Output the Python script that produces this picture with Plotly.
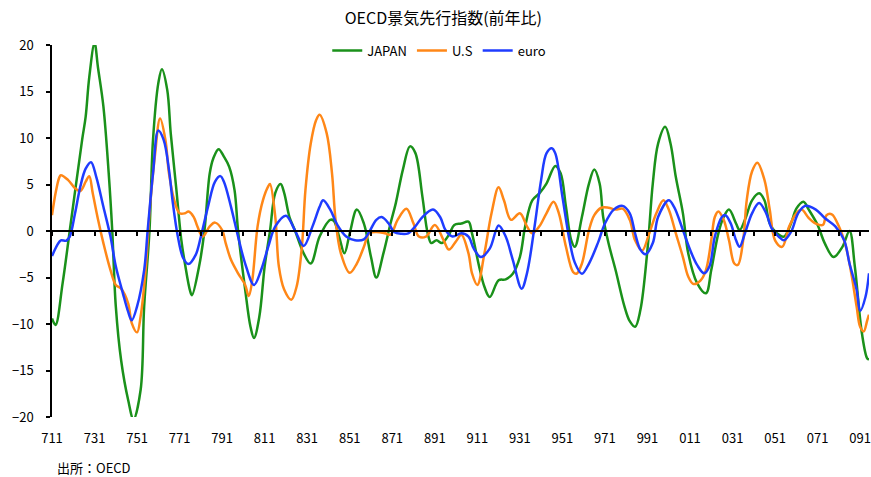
import plotly.graph_objects as go

# x = months since 1971/01, y = year-on-year change (%)
jp_month = [0, 2, 6, 10, 17, 19, 21, 24, 26, 29, 32, 34, 36, 39, 43, 46, 50, 52, 55, 57, 60, 62, 65, 67, 70, 73, 75, 78, 79,
            83, 86, 89, 91, 94, 97, 100, 103, 105, 109, 112, 114, 117, 120, 123, 126, 129, 131, 134, 137, 142, 146, 151,
            157, 159, 162, 165, 168, 172, 176, 180, 183, 187, 191, 194, 198, 202, 205, 209, 212, 214, 217, 220, 224, 227,
            231, 235, 237, 241, 244, 247, 252, 256, 260, 264, 267, 271, 275, 279, 284, 287, 290, 293, 295, 299, 303, 306,
            309, 311, 314, 318, 323, 326, 329, 332, 336, 339, 342, 346, 349, 352, 356, 359, 364, 369, 372, 376, 379, 382,
            386, 388, 391, 395, 399, 402, 405, 409, 413, 417, 420, 424, 427, 432, 436, 441, 446, 450, 453, 457, 460, 461]
jp_value = [-9.4, -10.1, -5.6, 0.0, 9.8, 12.3, 16.5, 20.2, 17.5, 13.4, 6.2, 0.0, -8.1, -13.9, -18.2, -20.25, -17.1, -8.1, 0.0,
            9.8, 15.9, 17.4, 15.2, 10.5, 4.8, -1.0, -3.5, -6.5, -6.9, -3.8, 0.0, 6.2, 7.8, 8.8, 8.0, 6.9, 4.4, 0.0, -6.3,
            -10.3, -11.5, -9.2, -3.8, 0.0, 4.1, 5.05, 4.1, 1.5, 0.1, -2.4, -3.5, -0.6, 1.2, 1.1, -0.6, -2.4, -0.25, 2.3,
            0.8, -2.8, -5.0, -2.4, 0.8, 3.0, 6.6, 9.1, 8.4, 3.7, -0.25, -1.3, -1.0, -1.3, -0.4, 0.65, 0.8, 1.0, -0.25,
            -3.8, -6.0, -7.1, -5.3, -5.2, -4.6, -2.8, 0.5, 3.3, 4.05, 5.1, 7.0, 6.2, 2.6, -1.0, -1.7, 1.5, 5.1, 6.6, 5.1,
            1.5, -1.3, -4.2, -8.1, -9.7, -10.3, -8.5, -2.0, 5.1, 9.4, 11.2, 9.4, 5.8, 1.9, -2.4, -5.6, -6.7, -4.2, -0.25,
            1.5, 2.3, 0.8, 0.1, 1.2, 3.3, 4.05, 3.3, 0.8, -0.25, -0.6, 0.8, 2.4, 3.15, 2.3, 0.65, -1.3, -2.8, -1.7, 0.0,
            -3.8, -11.0, -13.7, -13.8]

us_month = [0, 2, 4, 5, 9, 13, 16, 19, 21, 23, 26, 29, 33, 36, 39, 43, 45, 48, 50, 53, 55, 58, 61, 64, 66, 69, 72, 75, 77,
            80, 82, 85, 89, 92, 96, 98, 101, 105, 109, 111, 113, 116, 119, 122, 123, 126, 128, 131, 135, 138, 141, 143, 146,
            149, 151, 155, 158, 160, 163, 168, 172, 176, 179, 183, 188, 191, 195, 200, 204, 207, 211, 216, 221, 224, 228,
            231, 235, 237, 240, 244, 248, 252, 255, 259, 264, 268, 271, 275, 279, 283, 286, 290, 294, 296, 299, 303, 306,
            310, 314, 318, 322, 326, 329, 333, 337, 341, 345, 348, 352, 356, 359, 362, 366, 369, 372, 374, 376, 379, 382,
            385, 387, 390, 392, 395, 398, 402, 405, 408, 412, 416, 420, 423, 427, 431, 435, 437, 440, 444, 448, 451, 454,
            456, 458, 460, 461]
us_value = [1.7, 4.05, 5.7, 6.0, 5.5, 4.6, 4.3, 5.3, 5.9, 4.05, 1.2, -1.3, -4.2, -5.8, -6.2, -7.8, -9.9, -10.9, -9.2, -3.8,
            1.9, 8.0, 12.1, 9.8, 6.2, 3.3, 1.9, 1.9, 2.1, 1.5, 0.5, -0.6, 0.5, 0.9, 0.1, -1.3, -3.1, -4.55, -5.8, -7.0,
            -5.3, 0.5, 3.3, 4.8, 5.05, 1.5, -3.8, -6.3, -7.4, -6.0, -1.7, 4.4, 9.4, 11.9, 12.5, 10.5, 6.2, 1.2, -2.4, -4.5,
            -3.5, -1.7, -0.25, -0.1, -0.25, -0.4, 1.2, 2.4, 0.8, -0.6, -0.6, 0.65, -1.0, -2.0, -1.1, -0.4, -2.4, -4.55,
            -5.8, -2.4, 1.9, 4.7, 3.3, 1.2, 1.9, 0.5, -0.25, 0.5, 1.9, 3.15, 1.9, -1.7, -4.4, -4.6, -3.5, 0.1, 1.7, 2.5,
            2.5, 2.3, 2.4, 1.2, -1.0, -2.1, -0.25, 1.9, 3.3, 2.3, -0.25, -2.8, -4.9, -5.7, -5.3, -4.2, -1.0, 1.5, 2.1, 1.2,
            -1.0, -3.5, -3.65, -1.0, 3.3, 6.4, 7.35, 5.5, 2.3, -1.0, -1.7, 0.5, 1.9, 2.3, 1.4, 0.8, 0.65, 1.7, 1.8, 0.5,
            -1.7, -4.55, -8.1, -10.3, -10.8, -9.6, -9.0]

eu_month = [0, 3, 5, 8, 10, 13, 16, 19, 22, 25, 29, 33, 36, 40, 43, 45, 48, 52, 54, 57, 60, 63, 66, 68, 71, 74, 77, 81, 84,
            88, 92, 95, 97, 101, 105, 109, 114, 118, 122, 126, 132, 137, 142, 147, 151, 153, 157, 161, 166, 171, 176, 179,
            183, 186, 190, 193, 197, 201, 205, 209, 215, 219, 222, 226, 231, 235, 238, 242, 247, 252, 256, 260, 265, 268,
            272, 276, 279, 282, 284, 288, 292, 295, 299, 303, 308, 312, 317, 322, 326, 329, 332, 335, 339, 342, 348, 351,
            356, 360, 364, 368, 371, 374, 378, 380, 383, 386, 388, 391, 395, 399, 403, 406, 410, 413, 417, 421, 425, 431,
            436, 442, 447, 450, 454, 456, 459, 461]
eu_value = [-2.7, -1.5, -1.0, -1.05, -0.6, 1.9, 4.8, 6.7, 7.4, 5.8, 2.6, -0.6, -3.8, -6.7, -8.7, -9.6, -8.1, -4.2, 0.1,
            6.2, 10.8, 9.8, 6.6, 3.3, -0.6, -2.9, -3.55, -2.6, -0.6, 2.6, 5.3, 5.9, 5.3, 2.6, -0.6, -3.5, -5.8, -4.2, -1.7,
            0.5, 1.65, 0.1, -1.6, 0.5, 2.6, 3.3, 2.3, 0.65, -0.6, -1.0, -0.9, -0.1, 1.2, 1.5, 0.8, -0.1, -0.3, -0.25, 0.5,
            1.5, 2.3, 1.5, 0.1, -0.6, -0.25, -0.6, -1.9, -2.8, -1.9, 0.6, -0.6, -3.1, -6.2, -4.55, 0.1, 5.5, 8.35, 8.9,
            8.35, 3.7, -1.0, -3.4, -4.6, -3.5, -1.3, 0.8, 2.3, 2.7, 1.9, -0.25, -2.0, -2.5, -1.3, 1.5, 3.3, 2.6, 0.1, -2.0,
            -3.65, -4.55, -3.8, -0.6, 1.5, 1.7, 0.8, -1.0, -1.7, -0.25, 1.9, 3.0, 1.9, 0.3, -0.6, -1.0, -0.1, 1.9, 2.7,
            2.3, 1.4, 0.5, -1.0, -3.5, -6.3, -8.6, -7.1, -4.55]

tick_months = [0, 24, 48, 72, 96, 120, 144, 168, 192, 216, 240, 264, 288, 312, 336, 360, 384, 408, 432, 456]
tick_labels = ["711", "731", "751", "771", "791", "811", "831", "851", "871", "891",
               "911", "931", "951", "971", "991", "011", "031", "051", "071", "091"]
minor_ticks = list(range(0, 457, 12))
y_ticks = [-20, -15, -10, -5, 0, 5, 10, 15, 20]

FONT = "Noto Sans CJK JP"
X_RANGE = [0, 461]

fig = go.Figure()
series = [("JAPAN", jp_month, jp_value, "#1a911a"),
          ("U.S", us_month, us_value, "#ff8717"),
          ("euro", eu_month, eu_value, "#1f3cff")]
for name, xs, ys, col in series:
    fig.add_trace(go.Scatter(x=xs, y=ys, name=name, mode="lines",
                             line=dict(color=col, width=2.5, shape="spline", smoothing=1.0)))

# helper trace for the zero-crossing axis
fig.add_trace(go.Scatter(x=[0], y=[0], xaxis="x2", mode="lines", showlegend=False,
                         hoverinfo="skip", line=dict(color="rgba(0,0,0,0)")))

fig.update_layout(
    width=871, height=477,
    margin=dict(l=52, r=0, t=45, b=60),
    paper_bgcolor="white", plot_bgcolor="white",
    font=dict(family=FONT, size=13, color="black"),
    title=dict(text="OECD景気先行指数(前年比)", x=0.509, xanchor="center", y=0.962, yanchor="middle",
               font=dict(family=FONT, size=16, color="black")),
    showlegend=True,
    legend=dict(orientation="h", x=0.474, xanchor="center", y=0.985, yanchor="middle",
                bgcolor="rgba(0,0,0,0)", font=dict(size=13), tracegroupgap=0),
    xaxis=dict(range=X_RANGE, tickmode="array", tickvals=tick_months, ticktext=tick_labels,
               showline=False, showgrid=False, zeroline=False, ticks="", ticklabelstandoff=12,
               ticklabeloverflow="allow", tickfont=dict(size=13)),
    xaxis2=dict(range=X_RANGE, overlaying="x", anchor="free", position=0.5,
                tickmode="array", tickvals=minor_ticks, showticklabels=False,
                ticks="outside", ticklen=4, tickwidth=1.5, tickcolor="black",
                showline=True, linecolor="black", linewidth=2, showgrid=False, zeroline=False),
    yaxis=dict(range=[-20, 20], tickmode="array", tickvals=y_ticks, ticks="outside", ticklen=4,
               tickwidth=1.5, tickcolor="black", showline=True, linecolor="black", linewidth=1.5,
               showgrid=False, zeroline=False, ticklabelstandoff=10, tickfont=dict(size=13)),
    annotations=[dict(text="出所：OECD", xref="paper", yref="paper", x=0.004, y=-0.137,
                      xanchor="left", yanchor="middle", showarrow=False, font=dict(size=13))],
)

fig.write_html("out.html", config={"displayModeBar": False},
               post_script="document.body.style.margin='0';document.body.style.overflow='hidden';")
